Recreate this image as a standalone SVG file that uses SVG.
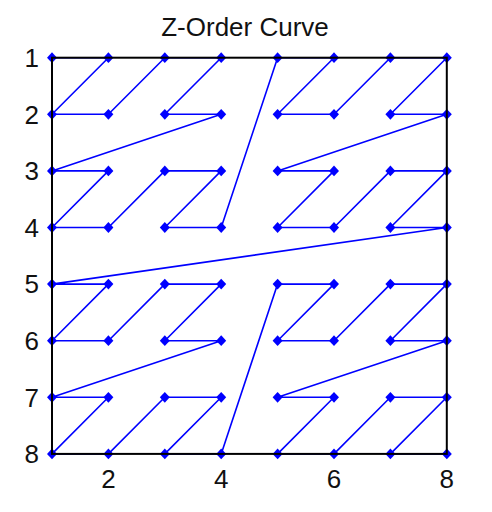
<svg xmlns="http://www.w3.org/2000/svg" width="492" height="512" viewBox="0 0 492 512">
<style>
text{font-family:"Liberation Sans",Arial,sans-serif;font-size:26px;fill:#111}
.curve{fill:none;stroke:#0000ff;stroke-width:1.6;stroke-linejoin:round;marker-start:url(#d);marker-mid:url(#d);marker-end:url(#d)}
.box{fill:none;stroke:#000;stroke-width:2}
</style>
<defs>
<marker id="d" markerUnits="userSpaceOnUse" markerWidth="12" markerHeight="12" refX="6" refY="6" orient="0" overflow="visible">
<path d="M6 0.6 L11 6 L6 11.4 L1 6 Z" fill="#0000ff"/>
</marker>
</defs>
<rect width="492" height="512" fill="#fff"/>
<text x="245" y="36" text-anchor="middle">Z-Order Curve</text>
<g id="connectors">
<polyline class="curve" points="52,57.7 108.4,57.7 52,114.3 108.4,114.3 164.8,57.7 221.2,57.7 164.8,114.3 221.2,114.3 52,170.9 108.4,170.9 52,227.5 108.4,227.5 164.8,170.9 221.2,170.9 164.8,227.5 221.2,227.5 277.6,57.7 334,57.7 277.6,114.3 334,114.3 390.4,57.7 446.8,57.7 390.4,114.3 446.8,114.3 277.6,170.9 334,170.9 277.6,227.5 334,227.5 390.4,170.9 446.8,170.9 390.4,227.5 446.8,227.5 52,284.1 108.4,284.1 52,340.7 108.4,340.7 164.8,284.1 221.2,284.1 164.8,340.7 221.2,340.7 52,397.3 108.4,397.3 52,453.9 108.4,453.9 164.8,397.3 221.2,397.3 164.8,453.9 221.2,453.9 277.6,284.1 334,284.1 277.6,340.7 334,340.7 390.4,284.1 446.8,284.1 390.4,340.7 446.8,340.7 277.6,397.3 334,397.3 277.6,453.9 334,453.9 390.4,397.3 446.8,397.3 390.4,453.9 446.8,453.9"/>
</g>
<rect class="box" x="52" y="57.7" width="394.8" height="396.2"/>
<g id="ylabels" text-anchor="end">
<text x="39" y="67">1</text>
<text x="39" y="123.6">2</text>
<text x="39" y="180.2">3</text>
<text x="39" y="236.8">4</text>
<text x="39" y="293.4">5</text>
<text x="39" y="350">6</text>
<text x="39" y="406.6">7</text>
<text x="39" y="463.2">8</text>
</g>
<g id="xlabels" text-anchor="middle">
<text x="108.4" y="488">2</text>
<text x="221.2" y="488">4</text>
<text x="334" y="488">6</text>
<text x="446.8" y="488">8</text>
</g>
</svg>
